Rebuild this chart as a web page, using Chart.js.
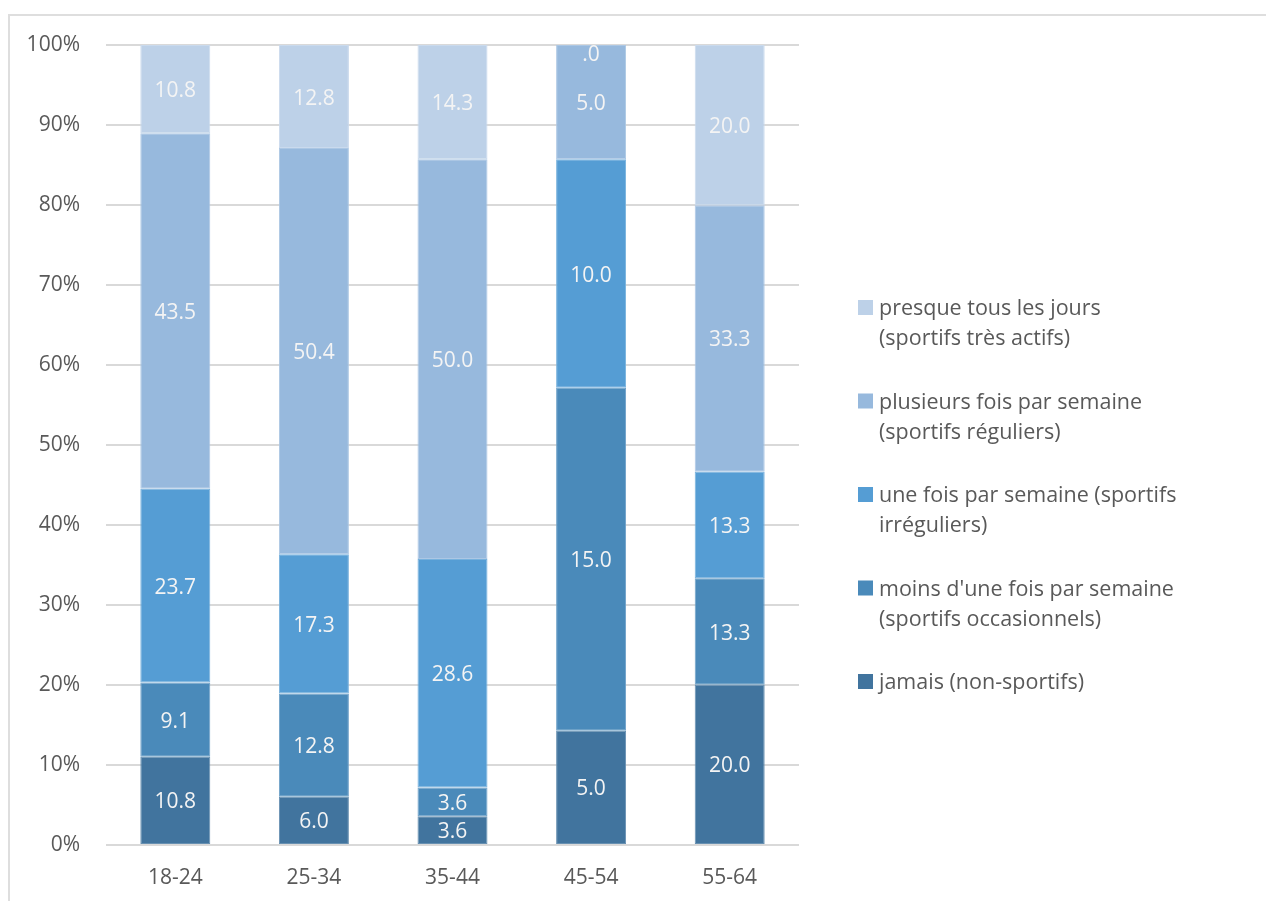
<!DOCTYPE html>
<html>
<head>
<meta charset="utf-8">
<script src="https://cdn.jsdelivr.net/npm/chart.js@4/dist/chart.umd.min.js"></script>
<style>
  html, body { margin: 0; padding: 0; background: #fff; overflow: hidden; }
  #wrap { position: relative; width: 1266px; height: 901px; }
  #frame { position: absolute; left: 8px; top: 14px; width: 1400px; height: 1000px; border: 2px solid #dedede; box-sizing: border-box; }
  canvas { position: absolute; left: 0; top: 0; }
</style>
</head>
<body>
<div id="wrap">
  <div id="frame"></div>
  <canvas id="c" width="1266" height="901"></canvas>
</div>
<script>
const categories = ['18-24', '25-34', '35-44', '45-54', '55-64'];
const jamais = [10.8, 6.0, 3.6, 5.0, 20.0];
const moins = [9.1, 12.8, 3.6, 15.0, 13.3];
const uneFois = [23.7, 17.3, 28.6, 10.0, 13.3];
const plusieurs = [43.5, 50.4, 50.0, 5.0, 33.3];
const presque = [10.8, 12.8, 14.3, 0.0, 20.0];
const yTicks = [0, 10, 20, 30, 40, 50, 60, 70, 80, 90, 100];

const seriesRaw = [jamais, moins, uneFois, plusieurs, presque];
const seriesLabels = [
  ['jamais (non-sportifs)'],
  ['moins d\'une fois par semaine', '(sportifs occasionnels)'],
  ['une fois par semaine (sportifs', 'irréguliers)'],
  ['plusieurs fois par semaine', '(sportifs réguliers)'],
  ['presque tous les jours', '(sportifs très actifs)']
];
const colors = ['#41749e', '#4a8aba', '#559dd4', '#97b9dd', '#bdd1e8'];

const totals = categories.map((_, i) => seriesRaw.reduce((s, arr) => s + arr[i], 0));
const FONT = '"Open Sans", Lato, sans-serif';
const TEXT = '#595959';

function lighten(hex, f) {
  const n = parseInt(hex.slice(1), 16);
  const c = [(n >> 16) & 255, (n >> 8) & 255, n & 255].map(v => Math.round(v + (255 - v) * f));
  return 'rgb(' + c.join(',') + ')';
}

function fmt(v) {
  let s = v.toFixed(1);
  if (s.startsWith('0.')) s = s.slice(1);
  return s;
}

const datasets = seriesRaw.map((arr, k) => ({
  label: seriesLabels[k].join(' '),
  data: arr.map((v, i) => v / totals[i] * 100),
  raw: arr,
  backgroundColor: colors[k],
  borderColor: lighten(colors[k], 0.2),
  borderWidth: 1,
  borderSkipped: false,
  barPercentage: 1,
  categoryPercentage: 0.505
}));

const labelPlugin = {
  id: 'labels',
  afterDatasetsDraw(chart) {
    const ctx = chart.ctx;
    ctx.save();
    ctx.font = '500 21px ' + FONT;
    ctx.fillStyle = '#f4f4f4';
    ctx.textAlign = 'center';
    ctx.textBaseline = 'middle';
    chart.data.datasets.forEach((ds, di) => {
      const meta = chart.getDatasetMeta(di);
      meta.data.forEach((bar, i) => {
        const p = bar.getProps(['x', 'y', 'base'], true);
        let y = (p.y + p.base) / 2;
        y = Math.max(y, chart.chartArea.top + 8);
        ctx.fillText(fmt(ds.raw[i]), p.x, y + 2);
      });
    });
    ctx.restore();
  }
};

const legendPlugin = {
  id: 'customLegend',
  afterDraw(chart) {
    const ctx = chart.ctx;
    ctx.save();
    ctx.font = '21.5px ' + FONT;
    ctx.fillStyle = TEXT;
    ctx.textBaseline = 'middle';
    ctx.textAlign = 'left';
    const x0 = 858, tx = 879, y0 = 309, step = 93.5, lh = 30;
    const order = [4, 3, 2, 1, 0];
    order.forEach((k, idx) => {
      const y = y0 + idx * step;
      ctx.fillStyle = colors[k];
      ctx.fillRect(x0, y - 9, 15, 15);
      ctx.fillStyle = TEXT;
      seriesLabels[k].forEach((line, li) => ctx.fillText(line, tx, y + li * lh));
    });
    ctx.restore();
  }
};

new Chart(document.getElementById('c'), {
  type: 'bar',
  data: { labels: categories, datasets },
  options: {
    responsive: false,
    animation: false,
    layout: { padding: { left: 0, top: 45, right: 467, bottom: 0 } },
    plugins: { legend: { display: false }, tooltip: { enabled: false } },
    scales: {
      x: {
        stacked: true,
        grid: { display: false, drawTicks: false },
        border: { display: false },
        ticks: { color: TEXT, font: { family: FONT, size: 21 }, padding: 20 },
        afterFit(s) { s.height = 56; }
      },
      y: {
        stacked: true,
        min: 0, max: 100,
        afterBuildTicks(s) { s.ticks = yTicks.map(v => ({ value: v })); },
        grid: { color: '#d9d9d9', lineWidth: 2, drawTicks: false },
        border: { display: false },
        ticks: { color: TEXT, font: { family: FONT, size: 21 }, padding: 26, callback: v => v + '%' },
        afterFit(s) { s.width = 106; }
      }
    }
  },
  plugins: [labelPlugin, legendPlugin]
});
</script>
</body>
</html>
